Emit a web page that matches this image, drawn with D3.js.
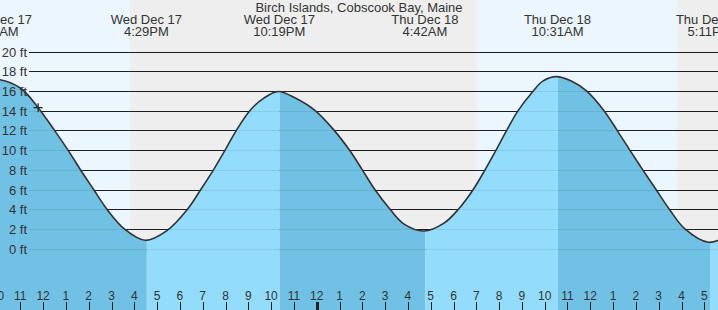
<!DOCTYPE html>
<html>
<head>
<meta charset="utf-8">
<script src="https://cdn.jsdelivr.net/npm/d3@7"></script>
<style>
  html, body { margin: 0; padding: 0; background: #fff; }
  svg { display: block; font-family: Arial, "Liberation Sans", sans-serif; }
</style>
</head>
<body>
<div id="chart"></div>
<script>
// ---------------------- data ----------------------
var stationName = "Birch Islands, Cobscook Bay, Maine";

// high / low tide events
var eventTimes = ["2025-12-17T09:54", "2025-12-17T16:29", "2025-12-17T22:19",
                  "2025-12-18T04:42", "2025-12-18T10:31", "2025-12-18T17:11"];
var eventFeet  = [17.2, 0.85, 15.95, 1.8, 17.45, 0.65];

// points along the tide curve (time, feet)
var curveTimes = ["2025-12-17T09:00", "2025-12-17T09:54", "2025-12-17T11:00", "2025-12-17T11:47",
                  "2025-12-17T12:30", "2025-12-17T13:09", "2025-12-17T13:40", "2025-12-17T14:13",
                  "2025-12-17T14:48", "2025-12-17T15:34", "2025-12-17T16:29", "2025-12-17T17:25",
                  "2025-12-17T18:20", "2025-12-17T18:55", "2025-12-17T19:30", "2025-12-17T19:59",
                  "2025-12-17T20:27", "2025-12-17T21:04", "2025-12-17T21:40", "2025-12-17T22:19",
                  "2025-12-17T23:05", "2025-12-17T23:56", "2025-12-18T00:46", "2025-12-18T01:28",
                  "2025-12-18T02:00", "2025-12-18T02:33", "2025-12-18T03:13", "2025-12-18T03:50",
                  "2025-12-18T04:42", "2025-12-18T05:35", "2025-12-18T06:13", "2025-12-18T06:52",
                  "2025-12-18T07:23", "2025-12-18T07:52", "2025-12-18T08:20", "2025-12-18T08:50",
                  "2025-12-18T09:30", "2025-12-18T09:55", "2025-12-18T10:31", "2025-12-18T11:10",
                  "2025-12-18T11:50", "2025-12-18T12:36", "2025-12-18T13:14", "2025-12-18T13:44",
                  "2025-12-18T14:18", "2025-12-18T14:53", "2025-12-18T15:28", "2025-12-18T16:09",
                  "2025-12-18T17:11", "2025-12-18T18:10"];
var curveFeet  = [16.8, 17.2, 16.3, 14.3,
                  12, 9.8, 7.9, 6,
                  4, 2, 0.85, 1.8,
                  4, 6, 8.1, 10,
                  11.9, 14, 15.25, 15.95,
                  15.25, 14, 12, 9.9,
                  8, 6, 4, 2.5,
                  1.8, 2.6, 4, 6,
                  8, 10, 12, 14,
                  16, 17.0, 17.45, 17.0,
                  16, 14, 11.8, 10,
                  8, 6, 4, 2,
                  0.65, 1.5];

// sunrise / sunset
var sunsetTimes  = ["2025-12-17T15:49", "2025-12-18T15:49"];
var sunriseTimes = ["2025-12-17T07:01", "2025-12-18T07:01"];

// current time marker
var nowTime = "2025-12-17T11:47";
var nowFeet = 14.3;

var yTicks = [0, 2, 4, 6, 8, 10, 12, 14, 16, 18, 20];

// ---------------------- setup ----------------------
var width = 718, height = 310;
var parse = d3.timeParse("%Y-%m-%dT%H:%M");

var svg = d3.select("#chart")
     .append("svg")
     .attr("width", width)
     .attr("height", height);

var x = d3.scaleTime()
     .domain([parse("2025-12-18T00:00"), parse("2025-12-18T12:00")])
     .range([316.7, 590.3]);

var y = d3.scaleLinear()
     .domain([0, 20])
     .range([248.7, 51.5]);

var tStart = x.invert(0), tEnd = x.invert(width);

// ---------------------- day / night background ----------------------
var bands = [];
for (var i = 0; i < sunriseTimes.length; i++) {
  bands.push({ a: parse(sunriseTimes[i]), b: parse(sunsetTimes[i]) });
}
svg.append("rect")
     .attr("x", 0).attr("y", 0)
     .attr("width", width).attr("height", height)
     .attr("fill", "#eeeeee");
svg.selectAll("rect.day")
     .data(bands)
     .enter()
     .append("rect")
     .attr("class", "day")
     .attr("x", function(d) { return x(d.a); })
     .attr("y", 0)
     .attr("width", function(d) { return x(d.b) - x(d.a); })
     .attr("height", height)
     .attr("fill", "#ebf6ff");

// ---------------------- grid lines ----------------------
function drawGrid(color, opacity) {
  svg.append("g")
     .selectAll("line")
     .data(yTicks)
     .enter()
     .append("line")
     .attr("x1", 29).attr("x2", width)
     .attr("y1", function(d) { return Math.round(y(d)) + 0.5; })
     .attr("y2", function(d) { return Math.round(y(d)) + 0.5; })
     .attr("stroke", color)
     .attr("stroke-opacity", opacity)
     .attr("stroke-width", 1.2);
}
drawGrid("#222", 1);

// ---------------------- tide area ----------------------
var pts = curveTimes.map(function(t, i) { return { t: parse(t), v: curveFeet[i] }; });
var events = eventTimes.map(function(t, i) { return { t: parse(t), v: eventFeet[i] }; });

var area = d3.area()
     .curve(d3.curveCatmullRom.alpha(0.5))
     .x(function(d) { return x(d.t); })
     .y0(height)
     .y1(function(d) { return y(d.v); });

var line = d3.line()
     .curve(d3.curveCatmullRom.alpha(0.5))
     .x(function(d) { return x(d.t); })
     .y(function(d) { return y(d.v); });

svg.append("clipPath")
     .attr("id", "tideClip")
     .append("path")
     .attr("d", area(pts));

// segments between events: falling = darker, rising = lighter
var segs = [];
for (var k = 0; k < events.length - 1; k++) {
  segs.push({ a: events[k].t, b: events[k + 1].t, falling: events[k + 1].v < events[k].v });
}
segs.push({ a: events[events.length - 1].t, b: d3.timeHour.offset(tEnd, 2), falling: false });
segs.unshift({ a: d3.timeHour.offset(tStart, -2), b: events[0].t, falling: false });

var fillG = svg.append("g").attr("clip-path", "url(#tideClip)");
fillG.selectAll("rect")
     .data(segs)
     .enter()
     .append("rect")
     .attr("x", function(d) { return x(d.a) + 1.5; })
     .attr("y", 0)
     .attr("width", function(d) { return x(d.b) - x(d.a); })
     .attr("height", height)
     .attr("fill", function(d) { return d.falling ? "#71c1e5" : "#94dcfc"; });

// grid showing faintly through the water
drawGrid("#000", 0.08);

svg.append("path")
     .attr("d", line(pts))
     .attr("fill", "none")
     .attr("stroke", "#333")
     .attr("stroke-width", 1.6);

// current time marker
svg.append("path")
     .attr("transform", "translate(" + x(parse(nowTime)) + "," + y(nowFeet) + ")")
     .attr("d", "M-4.5,0H4.5M0,-4.5V4.5")
     .attr("stroke", "#222")
     .attr("stroke-width", 1.2);

// ---------------------- y labels ----------------------
svg.append("g")
     .selectAll("text")
     .data(yTicks)
     .enter()
     .append("text")
     .attr("x", 27)
     .attr("y", function(d) { return y(d) + 5; })
     .attr("text-anchor", "end")
     .style("font-size", "13px")
     .attr("fill", "#333")
     .text(function(d) { return d + " ft"; });

// ---------------------- x axis (hours) ----------------------
var hours = d3.timeHour.range(d3.timeHour.offset(tStart, -1), d3.timeHour.offset(tEnd, 1));
var fmtHour = d3.timeFormat("%-I");

var xg = svg.append("g");
xg.selectAll("line")
     .data(hours)
     .enter()
     .append("line")
     .attr("x1", function(d) { return Math.round(x(d)) + 0.5; })
     .attr("x2", function(d) { return Math.round(x(d)) + 0.5; })
     .attr("y1", 302).attr("y2", height)
     .attr("stroke", "#222")
     .attr("stroke-width", function(d) { return d.getHours() === 0 ? 3 : 1; });
xg.selectAll("text")
     .data(hours)
     .enter()
     .append("text")
     .attr("x", function(d) { return x(d); })
     .attr("y", 300)
     .attr("text-anchor", "middle")
     .style("font-size", "12px")
     .attr("fill", "#333")
     .text(function(d) { return fmtHour(d); });

// ---------------------- title and event labels ----------------------
svg.append("text")
     .attr("x", width / 2)
     .attr("y", 12)
     .attr("text-anchor", "middle")
     .style("font-size", "13px")
     .attr("fill", "#333")
     .text(stationName);

var fmtDay = d3.timeFormat("%a %b %-d");
var fmtTime = d3.timeFormat("%-I:%M%p");

var lab = svg.append("g")
     .selectAll("text")
     .data(events)
     .enter()
     .append("text")
     .attr("text-anchor", "middle")
     .style("font-size", "13px")
     .attr("fill", "#333");
lab.append("tspan")
     .attr("x", function(d) { return x(d.t) + 1; })
     .attr("y", 24)
     .text(function(d) { return fmtDay(d.t); });
lab.append("tspan")
     .attr("x", function(d) { return x(d.t) + 1; })
     .attr("y", 36)
     .text(function(d) { return fmtTime(d.t); });
</script>
</body>
</html>
